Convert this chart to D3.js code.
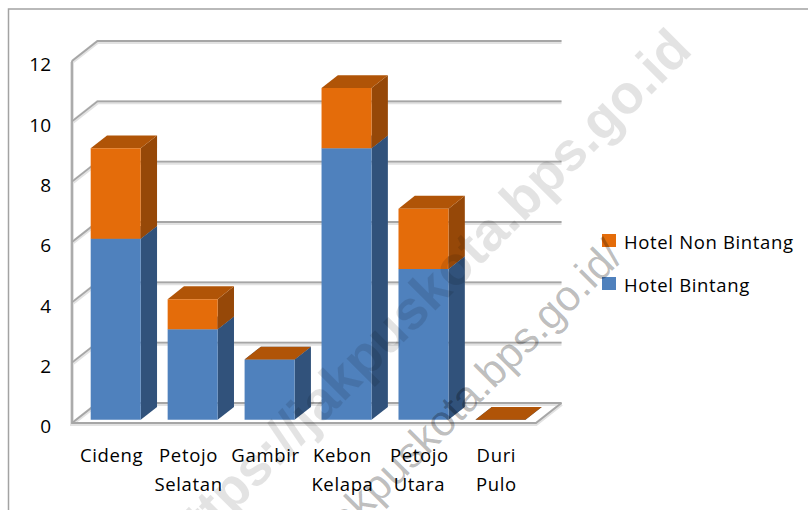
<!DOCTYPE html>
<html>
<head>
<meta charset="utf-8">
<script src="https://cdn.jsdelivr.net/npm/d3@7"></script>
<style>
  body { margin: 0; background: #fff; }
  svg { display: block; }
  text { font-family: "Open Sans", sans-serif; fill: #000; }
</style>
</head>
<body>
<div id="chart"></div>
<script>
/**
 * Data
 */
const categories = ["Cideng", "Petojo Selatan", "Gambir", "Kebon Kelapa", "Petojo Utara", "Duri Pulo"];
const seriesNames = ["Hotel Bintang", "Hotel Non Bintang"];
const hotelBintang = [6, 3, 2, 9, 5, 0];
const hotelNonBintang = [3, 1, 0, 2, 2, 0];
const yTicks = [0, 2, 4, 6, 8, 10, 12];
const watermarks = ["https://jakpuskota.bps.go.id", "https://jakpuskota.bps.go.id/"];

/**
 * Basic Settings
 */
const width = 808;
const height = 510;
const depthX = 25.5;
const depthY = -20;
const barZ = [0.16, 0.8];

const colors = {
  "Hotel Bintang": { front: "#4f81bd", side: "#31527b", top: "#3a6291" },
  "Hotel Non Bintang": { front: "#e46c0a", side: "#964808", top: "#b05407" }
};

const svg = d3.select("#chart").append("svg")
  .attr("width", width)
  .attr("height", height);

const x = d3.scaleBand().domain(categories).range([72, 536]).paddingInner(0.35).paddingOuter(0.19);
const y = d3.scaleLinear().domain([0, 12]).range([423, 61]);

// project a point of the 3d box on the page, z runs from the front (0) to the back wall (1)
const px = (v, z) => v + depthX * z;
const py = (v, z) => y(v) + depthY * z;
const pts = list => list.map(p => p.join(",")).join(" ");

// outer frame, runs off the page on the right and at the bottom
svg.append("rect")
  .attr("x", 8.5).attr("y", 9)
  .attr("width", 1000).attr("height", 1000)
  .attr("fill", "none")
  .attr("stroke", "#a3a3a3")
  .attr("stroke-width", 1.5);

/**
 * Walls and gridlines
 */
const grid = svg.append("g").attr("fill", "none");

function wallPath(v) {
  return "M" + x.range()[0] + "," + y(v)
    + "L" + px(x.range()[0], 1) + "," + py(v, 1)
    + "L" + px(x.range()[1], 1) + "," + py(v, 1);
}

[["#e2e2e2", 4, 1], ["#a6a6a6", 1.8, 0]].forEach(function(s) {
  const layer = grid.append("g")
    .attr("stroke", s[0])
    .attr("stroke-width", s[1])
    .attr("transform", `translate(0, ${s[2]})`);

  layer.selectAll("path")
    .data(yTicks)
    .join("path")
    .attr("d", wallPath);

  layer.append("path")
    .attr("d", "M" + x.range()[0] + "," + y(12) + "V" + y(0) + "H" + x.range()[1]
      + "L" + px(x.range()[1], 1) + "," + py(0, 1));
});

/**
 * Stacked 3d bars
 */
const rows = categories.map((c, i) => ({
  category: c,
  "Hotel Bintang": hotelBintang[i],
  "Hotel Non Bintang": hotelNonBintang[i]
}));
const stacked = d3.stack().keys(seriesNames)(rows);

const layers = svg.append("g").selectAll("g")
  .data(stacked)
  .join("g");

function barFaces(d) {
  const c = colors[this.parentNode.__data__.key];
  const x0 = x(d.data.category);
  const x1 = x0 + x.bandwidth();
  const [z0, z1] = barZ;
  const g = d3.select(this);

  g.append("polygon")
    .attr("fill", c.side)
    .attr("points", pts([[px(x1, z0), py(d[0], z0)], [px(x1, z1), py(d[0], z1)], [px(x1, z1), py(d[1], z1)], [px(x1, z0), py(d[1], z0)]]));
  g.append("polygon")
    .attr("fill", c.top)
    .attr("points", pts([[px(x0, z0), py(d[1], z0)], [px(x0, z1), py(d[1], z1)], [px(x1, z1), py(d[1], z1)], [px(x1, z0), py(d[1], z0)]]));
  g.append("polygon")
    .attr("fill", c.front)
    .attr("points", pts([[px(x0, z0), py(d[0], z0)], [px(x1, z0), py(d[0], z0)], [px(x1, z0), py(d[1], z0)], [px(x0, z0), py(d[1], z0)]]));
}

layers.selectAll("g")
  .data(d => d)
  .join("g")
  .each(barFaces);

/**
 * Axes
 */
const yAxis = svg.append("g")
  .attr("transform", "translate(51, 0)")
  .call(d3.axisLeft(y).tickValues(yTicks).tickSize(0).tickPadding(0));
yAxis.select(".domain").remove();
yAxis.selectAll("text")
  .attr("dy", "0.52em")
  .style("font-family", '"Open Sans", sans-serif')
  .style("font-size", "19px");

const xLabels = svg.append("g").selectAll("text")
  .data(categories)
  .join("text")
  .attr("text-anchor", "middle")
  .style("font-size", "18.5px")
  .style("letter-spacing", "0.65px");

xLabels.selectAll("tspan")
  .data(d => d.split(" ").map(word => ({ word: word, center: x(d) + x.bandwidth() / 2 })))
  .join("tspan")
  .attr("x", d => d.center)
  .attr("y", (d, i) => 462 + i * 29)
  .text(d => d.word);

/**
 * Legend
 */
const legend = svg.append("g").selectAll("g")
  .data(seriesNames.slice().reverse())
  .join("g")
  .attr("transform", (d, i) => `translate(602, ${234 + i * 43})`);

legend.append("rect")
  .attr("width", 14)
  .attr("height", 13)
  .attr("fill", d => colors[d].front);

legend.append("text")
  .attr("x", 22)
  .attr("y", 15)
  .style("font-size", "18.5px")
  .style("letter-spacing", "0.65px")
  .text(d => d);

/**
 * Watermarks
 */
svg.append("text")
  .attr("transform", "translate(694, 52) rotate(-45)")
  .attr("text-anchor", "end")
  .style("font-family", '"Liberation Sans", sans-serif')
  .style("font-weight", "bold")
  .style("font-size", "54.5px")
  .style("fill", "rgba(0, 0, 0, 0.11)")
  .text(watermarks[0]);

svg.append("text")
  .attr("transform", "translate(625, 258) rotate(-45)")
  .attr("text-anchor", "end")
  .style("font-family", '"Liberation Sans", sans-serif')
  .style("font-size", "43px")
  .style("fill", "rgba(0, 0, 0, 0.27)")
  .text(watermarks[1]);
</script>
</body>
</html>
